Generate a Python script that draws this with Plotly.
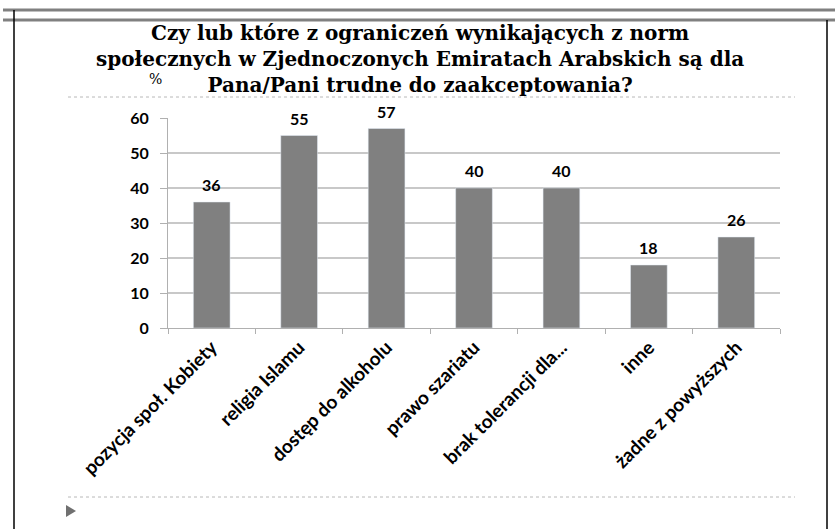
import plotly.graph_objects as go

categories = ['pozycja społ. Kobiety', 'religia Islamu', 'dostęp do alkoholu', 'prawo szariatu',
              'brak tolerancji dla...', 'inne', 'żadne z powyższych']
values = [36, 55, 57, 40, 40, 18, 26]
y_ticks = [0, 10, 20, 30, 40, 50, 60]

title = ('Czy lub które z ograniczeń wynikających z norm<br>'
         'społecznych w Zjednoczonych Emiratach Arabskich są dla<br>'
         'Pana/Pani trudne do zaakceptowania?')

W, H = 835, 529
L, R, T, B = 168, 55, 118, 201
PW, PH = W - L - R, H - T - B

def px(x, y):
    # pixel position -> paper coordinates
    return (x - L) / PW, (H - B - y) / PH

fig = go.Figure()
fig.add_trace(go.Bar(x=categories, y=values, width=0.42, marker_color='#808080'))

# value labels above the bars
for c, v in zip(categories, values):
    fig.add_annotation(x=c, y=v, text=str(v), showarrow=False, yanchor='bottom', yshift=6,
                       font=dict(family='Lato', size=16, color='black', weight='bold'))

fig.update_layout(
    width=W, height=H, plot_bgcolor='white', paper_bgcolor='white', showlegend=False,
    margin=dict(l=L, r=R, t=T, b=B),
    font=dict(family='Lato', color='black'),
    xaxis=dict(tickangle=-45, showgrid=False, showline=True, linecolor='#b0b0b0',
               ticks='outside', ticklen=5, tickcolor='#b0b0b0', tickson='boundaries',
               tickfont=dict(family='Lato', size=19, color='black', weight='bold')),
    yaxis=dict(range=[0, 60], tickvals=y_ticks, showgrid=True, gridcolor='#c8c8c8', gridwidth=1.5,
               showline=True, linecolor='#b0b0b0', ticks='outside', ticklen=7,
               tickcolor='#b0b0b0', zeroline=False, ticklabelstandoff=8,
               tickfont=dict(family='Lato', size=16, color='black', weight='bold')),
)

tx, ty = px(420, 19)
fig.add_annotation(text=title, xref='paper', yref='paper', x=tx, xanchor='center',
                   y=ty, yanchor='top', showarrow=False, align='center',
                   font=dict(family='DejaVu Serif', size=20, color='black', weight='bold'))
pxx, pyy = px(155, 79)
fig.add_annotation(text='%', xref='paper', yref='paper', x=pxx, xanchor='center',
                   y=pyy, yanchor='middle', showarrow=False,
                   font=dict(family='DejaVu Serif', size=14, color='black'))

for (x0, y0, x1, y1, col, w, dash) in [
    (3, 10, 835, 10, '#808080', 3, 'solid'),
    (3, 20, 835, 20, '#808080', 3, 'solid'),
    (14, 10, 14, 529, 'black', 1.5, 'solid'),
    (827, 20, 827, 529, 'black', 1.5, 'solid'),
    (68, 97, 795, 97, '#b8b8b8', 1, 'dot'),
    (68, 497, 795, 497, '#b8b8b8', 1, 'dot'),
]:
    a, b = px(x0, y0)
    c, d = px(x1, y1)
    fig.add_shape(type='line', xref='paper', yref='paper', x0=a, y0=b, x1=c, y1=d,
                  line=dict(color=col, width=w, dash=dash))

p1, p2, p3 = px(66, 505), px(76, 511), px(66, 517)
fig.add_shape(type='path', xref='paper', yref='paper',
              path='M %f %f L %f %f L %f %f Z' % (p1 + p2 + p3),
              fillcolor='#707070', line=dict(width=0))

fig.write_html('out.html', config={'displayModeBar': False},
               post_script="document.body.style.margin='0';")
